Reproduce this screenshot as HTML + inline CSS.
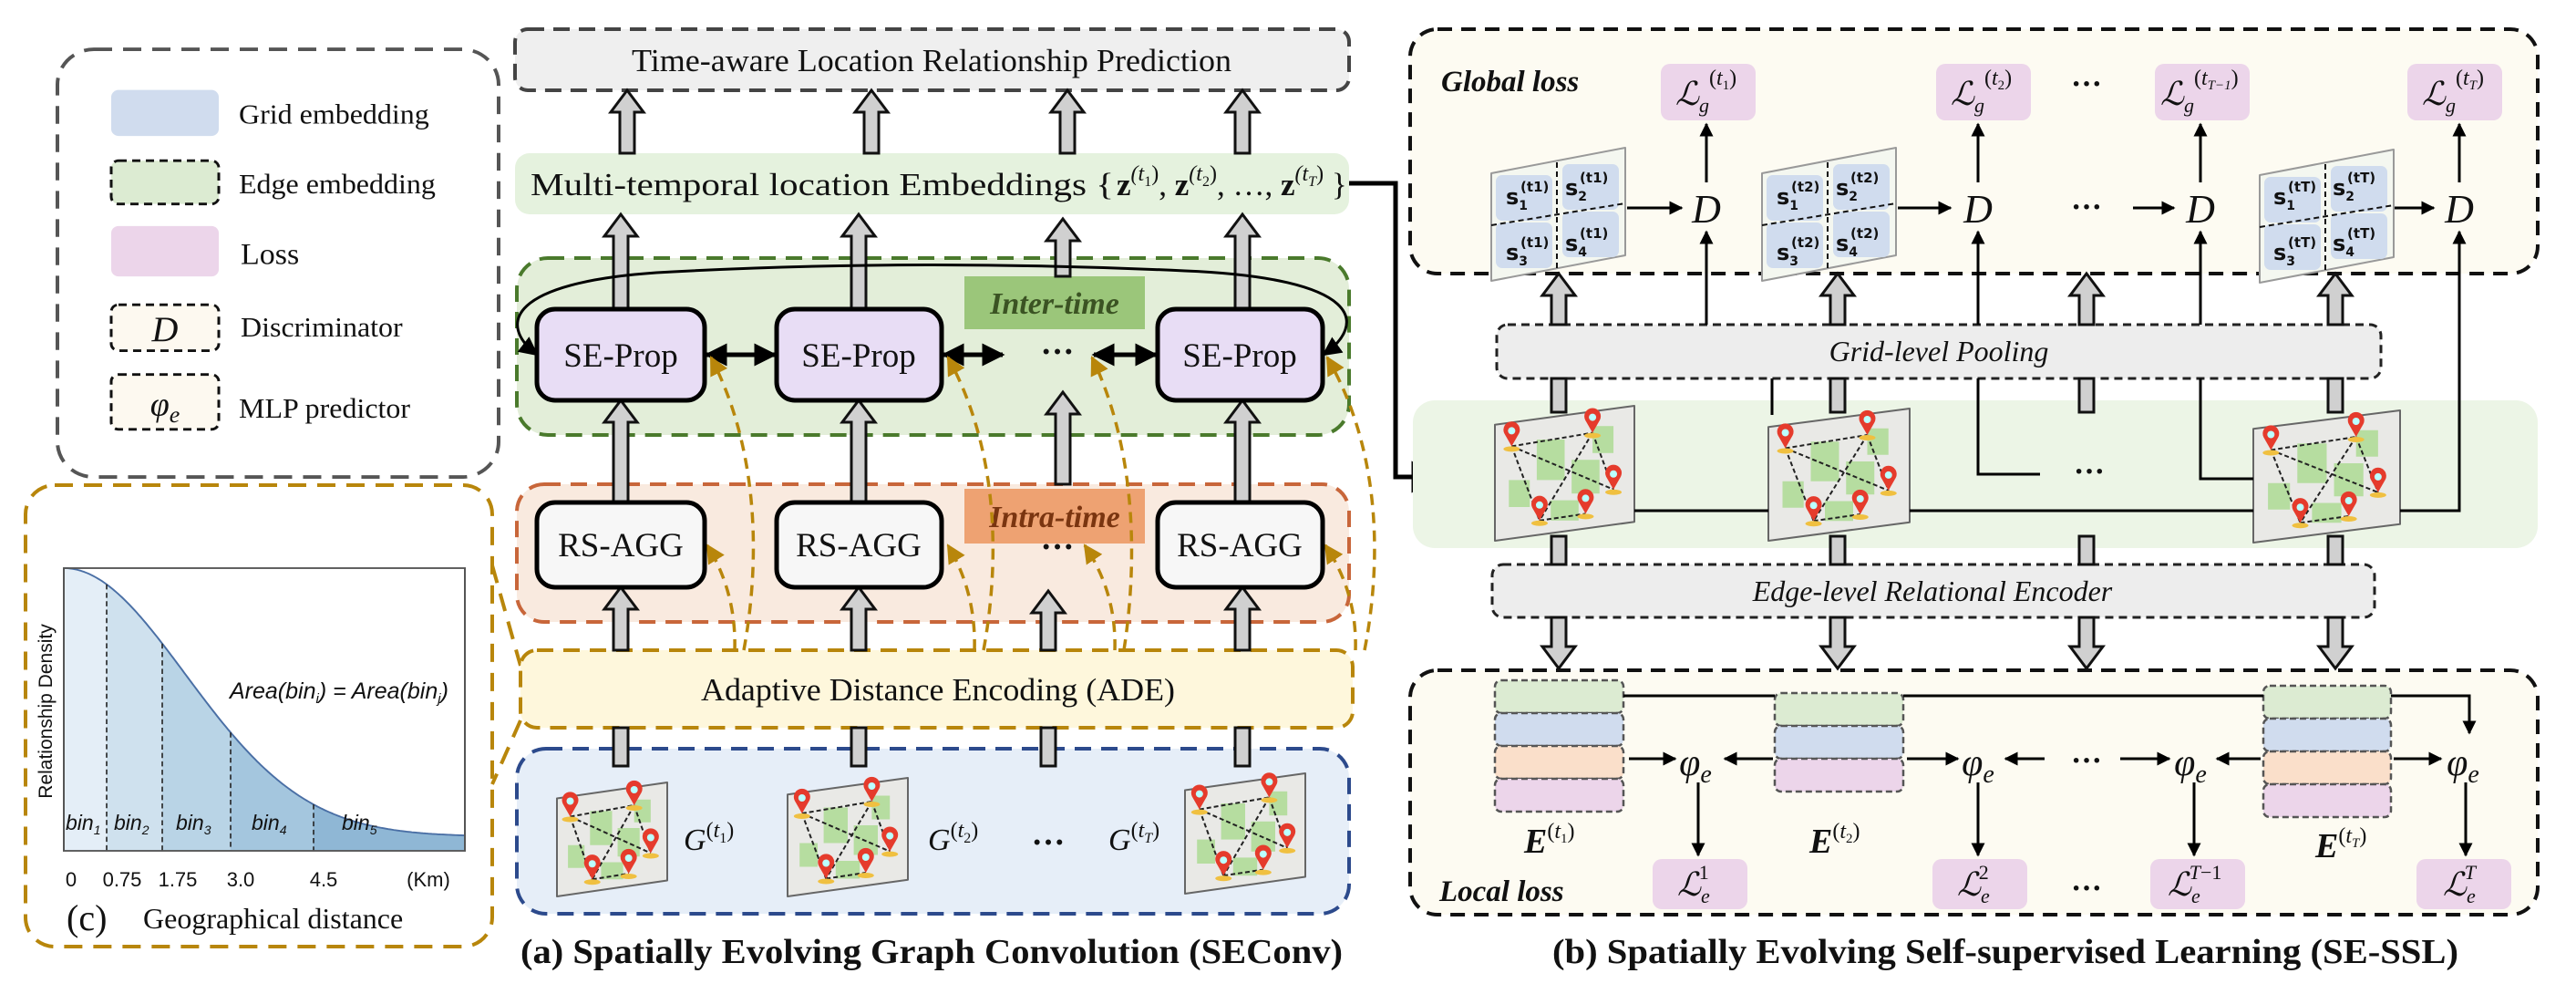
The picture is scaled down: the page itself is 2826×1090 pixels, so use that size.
<!DOCTYPE html>
<html><head><meta charset="utf-8"><style>
html,body{margin:0;padding:0;background:#fff}
svg{display:block}
text{font-family:"Liberation Serif","DejaVu Serif",serif;fill:#111}
.sans text, text.sans{font-family:"Liberation Sans","DejaVu Sans",sans-serif}
.dj text{font-family:"DejaVu Sans",sans-serif}
.m{font-style:italic}
.b{font-weight:bold}
</style></head><body>
<svg id="s" width="2826" height="1090" viewBox="0 0 2826 1090" xmlns="http://www.w3.org/2000/svg">
<defs>
<marker id="ah" viewBox="0 0 10 10" refX="9" refY="5" markerWidth="7" markerHeight="7" orient="auto-start-reverse"><path d="M0,0 L10,5 L0,10 z" fill="#000"/></marker>
<marker id="ahs" viewBox="0 0 10 10" refX="9" refY="5" markerWidth="5" markerHeight="5" orient="auto-start-reverse"><path d="M0,0 L10,5 L0,10 z" fill="#000"/></marker>
<marker id="ag" viewBox="0 0 10 10" refX="9" refY="5" markerWidth="6" markerHeight="6" orient="auto"><path d="M0,0 L10,5 L0,10 z" fill="#b8860b"/></marker>
</defs>

<g transform="translate(0,-5) scale(1,0.969)">
<rect x="63" y="61" width="484" height="484" rx="40" fill="#fff" stroke="#555" stroke-width="4" stroke-dasharray="20,12"/>
<rect x="122" y="107" width="118" height="52" rx="8" fill="#d0dcee"/>
<rect x="122" y="187" width="118" height="49" rx="8" fill="#dcebd2" stroke="#111" stroke-width="3" stroke-dasharray="9,6"/>
<rect x="122" y="261" width="118" height="57" rx="8" fill="#ecd5ea"/>
<rect x="122" y="350" width="118" height="52" rx="8" fill="#fdf9f0" stroke="#111" stroke-width="3" stroke-dasharray="9,6"/>
<rect x="122" y="429" width="118" height="62" rx="8" fill="#fdf9f0" stroke="#111" stroke-width="3" stroke-dasharray="9,6"/>
<text x="181" y="391" font-size="40" class="m" text-anchor="middle">D</text>
<text x="181" y="475" font-size="38" class="m" text-anchor="middle">φ<tspan font-size="26" dy="8">e</tspan></text>
<text x="262" y="145" font-size="32">Grid embedding</text>
<text x="262" y="224" font-size="32">Edge embedding</text>
<text x="264" y="304" font-size="34">Loss</text>
<text x="264" y="386" font-size="32">Discriminator</text>
<text x="262" y="478" font-size="32">MLP predictor</text>
</g>

<rect x="28" y="532" width="512" height="506" rx="32" fill="#fff" stroke="#b8860b" stroke-width="4" stroke-dasharray="20,12"/>
<line x1="540" y1="620" x2="571" y2="730" stroke="#b8860b" stroke-width="4" stroke-dasharray="20,12"/>
<line x1="571" y1="790" x2="540" y2="860" stroke="#b8860b" stroke-width="4" stroke-dasharray="20,12"/>
<g transform="translate(0,39) scale(1,0.9226)">
<g id="chart"></g>
<rect x="70" y="633" width="440" height="336" fill="none" stroke="#555" stroke-width="2"/>
</g>
<g class="sans" font-size="23">
<text x="72" y="910" class="m">bin<tspan font-size="14" dy="5">1</tspan></text>
<text x="125" y="910" class="m">bin<tspan font-size="14" dy="5">2</tspan></text>
<text x="193" y="910" class="m">bin<tspan font-size="14" dy="5">3</tspan></text>
<text x="276" y="910" class="m">bin<tspan font-size="14" dy="5">4</tspan></text>
<text x="375" y="910" class="m">bin<tspan font-size="14" dy="5">5</tspan></text>
<text x="252" y="766" font-size="25" class="m">Area(bin<tspan font-size="15" dy="5">i</tspan><tspan dy="-5">) = Area(bin</tspan><tspan font-size="15" dy="5">j</tspan><tspan dy="-5">)</tspan></text>
<text x="57" y="780" font-size="21" transform="rotate(-90 57 780)" text-anchor="middle">Relationship Density</text>
</g>
<g class="sans" font-size="22" text-anchor="middle">
<text x="78" y="972">0</text><text x="134" y="972">0.75</text><text x="195" y="972">1.75</text><text x="264" y="972">3.0</text><text x="355" y="972">4.5</text><text x="470" y="972">(Km)</text>
</g>
<text x="73" y="1020" font-size="40">(c)</text>
<text x="157" y="1018" font-size="32">Geographical distance</text>

<rect x="565" y="32" width="915" height="67" rx="14" fill="#efefef" stroke="#444" stroke-width="4" stroke-dasharray="18,10"/>
<text x="1022" y="78" font-size="35" text-anchor="middle" textLength="658" lengthAdjust="spacingAndGlyphs">Time-aware Location Relationship Prediction</text>
<rect x="565" y="168" width="915" height="67" rx="16" fill="#e5f2de"/>
<text x="582" y="214" font-size="35" textLength="640" lengthAdjust="spacingAndGlyphs">Multi-temporal location Embeddings {</text>
<text x="1225" y="214" font-size="35" class="b">z<tspan font-size="24" dy="-16" class="m" font-weight="normal">(t</tspan><tspan font-size="16" dy="6" font-weight="normal">1</tspan><tspan font-size="24" dy="-6" font-weight="normal">)</tspan><tspan dy="16" font-weight="normal">, </tspan>z<tspan font-size="24" dy="-16" class="m" font-weight="normal">(t</tspan><tspan font-size="16" dy="6" font-weight="normal">2</tspan><tspan font-size="24" dy="-6" font-weight="normal">)</tspan><tspan dy="16" font-weight="normal">, …, </tspan>z<tspan font-size="24" dy="-16" class="m" font-weight="normal">(t</tspan><tspan font-size="16" dy="6" class="m" font-weight="normal">T</tspan><tspan font-size="24" dy="-6" font-weight="normal">)</tspan><tspan dy="16" font-weight="normal"> }</tspan></text>
<polyline points="1480,201 1531,201 1531,523 1580,523" fill="none" stroke="#000" stroke-width="5" marker-end="url(#ah)"/>

<rect x="567" y="283" width="913" height="194" rx="34" fill="#e3eed9" stroke="#4a7a2c" stroke-width="4" stroke-dasharray="18,11"/>
<rect x="567" y="531" width="913" height="151" rx="30" fill="#f9eadf" stroke="#c8663a" stroke-width="4" stroke-dasharray="18,11"/>
<rect x="571" y="713" width="913" height="85" rx="18" fill="#fef7dc" stroke="#b8860b" stroke-width="4" stroke-dasharray="18,11"/>
<rect x="567" y="821" width="913" height="181" rx="32" fill="#e6eef8" stroke="#2c4a8c" stroke-width="4" stroke-dasharray="18,11"/>

<rect x="1058" y="303" width="198" height="58" fill="#9bc67a"/>
<text x="1157" y="344" font-size="34" class="m b" text-anchor="middle" style="fill:#3b5323">Inter-time</text>
<rect x="1058" y="536" width="198" height="60" fill="#eea272"/>
<text x="1157" y="578" font-size="34" class="m b" text-anchor="middle" style="fill:#7a3510">Intra-time</text>

<g id="mid"></g>

<g stroke="#000" stroke-width="5" fill="#e8ddf5">
<rect x="589" y="339" width="184" height="100" rx="20"/>
<rect x="852" y="339" width="181" height="100" rx="20"/>
<rect x="1270" y="339" width="181" height="100" rx="20"/>
</g>
<g stroke="#000" stroke-width="5" fill="#f7f7f7">
<rect x="589" y="551" width="184" height="93" rx="20"/>
<rect x="852" y="551" width="181" height="93" rx="20"/>
<rect x="1270" y="551" width="181" height="93" rx="20"/>
</g>
<g font-size="37" text-anchor="middle">
<text x="681" y="402">SE-Prop</text><text x="942" y="402">SE-Prop</text><text x="1360" y="402">SE-Prop</text>
<text x="681" y="610">RS-AGG</text><text x="942" y="610">RS-AGG</text><text x="1360" y="610">RS-AGG</text>
<text x="1160" y="398" class="b">···</text>
<text x="1160" y="612" class="b">···</text>
<text x="1150" y="936" class="b">···</text>
</g>
<text x="1029" y="768" font-size="35" text-anchor="middle" textLength="520" lengthAdjust="spacingAndGlyphs">Adaptive Distance Encoding (ADE)</text>
<text x="750" y="932" font-size="34" class="m">G<tspan font-size="24" dy="-14" font-style="normal">(</tspan><tspan font-size="24">t</tspan><tspan font-size="16" dy="6" font-style="normal">1</tspan><tspan font-size="24" dy="-6" font-style="normal">)</tspan></text>
<text x="1018" y="932" font-size="34" class="m">G<tspan font-size="24" dy="-14" font-style="normal">(</tspan><tspan font-size="24">t</tspan><tspan font-size="16" dy="6" font-style="normal">2</tspan><tspan font-size="24" dy="-6" font-style="normal">)</tspan></text>
<text x="1216" y="932" font-size="34" class="m">G<tspan font-size="24" dy="-14" font-style="normal">(</tspan><tspan font-size="24">t</tspan><tspan font-size="16" dy="6">T</tspan><tspan font-size="24" dy="-6" font-style="normal">)</tspan></text>
<text x="1022" y="1056" font-size="38" class="b" text-anchor="middle" textLength="902" lengthAdjust="spacingAndGlyphs">(a) Spatially Evolving Graph Convolution (SEConv)</text>

<rect x="1547" y="32" width="1237" height="268" rx="30" fill="#fdfbf2" stroke="#111" stroke-width="4" stroke-dasharray="16,10"/>
<rect x="1550" y="439" width="1234" height="162" rx="24" fill="#ecf5e6"/>
<rect x="1642" y="356" width="970" height="59" rx="12" fill="#ededed" stroke="#222" stroke-width="3" stroke-dasharray="9,6"/>
<rect x="1637" y="619" width="968" height="58" rx="12" fill="#ededed" stroke="#222" stroke-width="3" stroke-dasharray="9,6"/>
<rect x="1547" y="735" width="1237" height="268" rx="30" fill="#fdfbf2" stroke="#111" stroke-width="4" stroke-dasharray="16,10"/>
<text x="2127" y="396" font-size="32" class="m" text-anchor="middle">Grid-level Pooling</text>
<text x="2120" y="659" font-size="32" class="m" text-anchor="middle">Edge-level Relational Encoder</text>
<text x="1581" y="100" font-size="33" class="m b">Global loss</text>
<text x="1579" y="988" font-size="33" class="m b">Local loss</text>

<g fill="#ecd5ea">
<rect x="1822" y="70" width="104" height="62" rx="10"/><rect x="2124" y="70" width="104" height="62" rx="10"/>
<rect x="2364" y="70" width="104" height="62" rx="10"/><rect x="2641" y="70" width="104" height="62" rx="10"/>
<rect x="1813" y="942" width="104" height="55" rx="10"/><rect x="2120" y="942" width="104" height="55" rx="10"/>
<rect x="2359" y="942" width="104" height="55" rx="10"/><rect x="2651" y="942" width="104" height="55" rx="10"/>
</g>
<g font-size="36" class="m">
<text x="1838" y="115">ℒ<tspan font-size="22" dy="8">g</tspan><tspan font-size="24" dy="-30" font-style="normal">(</tspan><tspan font-size="24">t</tspan><tspan font-size="15" dy="5" font-style="normal">1</tspan><tspan font-size="24" dy="-5" font-style="normal">)</tspan></text>
<text x="2140" y="115">ℒ<tspan font-size="22" dy="8">g</tspan><tspan font-size="24" dy="-30" font-style="normal">(</tspan><tspan font-size="24">t</tspan><tspan font-size="15" dy="5" font-style="normal">2</tspan><tspan font-size="24" dy="-5" font-style="normal">)</tspan></text>
<text x="2370" y="115">ℒ<tspan font-size="22" dy="8">g</tspan><tspan font-size="24" dy="-30" font-style="normal">(</tspan><tspan font-size="24">t</tspan><tspan font-size="15" dy="5">T−1</tspan><tspan font-size="24" dy="-5" font-style="normal">)</tspan></text>
<text x="2657" y="115">ℒ<tspan font-size="22" dy="8">g</tspan><tspan font-size="24" dy="-30" font-style="normal">(</tspan><tspan font-size="24">t</tspan><tspan font-size="15" dy="5">T</tspan><tspan font-size="24" dy="-5" font-style="normal">)</tspan></text>
<text x="1840" y="982">ℒ<tspan font-size="22" dy="8">e</tspan><tspan font-size="22" dy="-26" dx="-12" font-style="normal">1</tspan></text>
<text x="2147" y="982">ℒ<tspan font-size="22" dy="8">e</tspan><tspan font-size="22" dy="-26" dx="-12" font-style="normal">2</tspan></text>
<text x="2378" y="982">ℒ<tspan font-size="22" dy="8">e</tspan><tspan font-size="22" dy="-26" dx="-12">T</tspan><tspan font-size="22" font-style="normal">−1</tspan></text>
<text x="2680" y="982">ℒ<tspan font-size="22" dy="8">e</tspan><tspan font-size="22" dy="-26" dx="-12">T</tspan></text>
</g>
<g font-size="34" class="b" text-anchor="middle">
<text x="2289" y="103">···</text><text x="2289" y="238">···</text><text x="2292" y="528">···</text>
<text x="2289" y="845">···</text><text x="2289" y="985">···</text>
</g>
<g font-size="44" class="m" text-anchor="middle">
<text x="1872" y="244">D</text><text x="2170" y="244">D</text><text x="2414" y="244">D</text><text x="2698" y="244">D</text>
</g>
<g font-size="42" class="m" text-anchor="middle">
<text x="1860" y="850">φ<tspan font-size="28" dy="8">e</tspan></text>
<text x="2170" y="850">φ<tspan font-size="28" dy="8">e</tspan></text>
<text x="2403" y="850">φ<tspan font-size="28" dy="8">e</tspan></text>
<text x="2702" y="850">φ<tspan font-size="28" dy="8">e</tspan></text>
</g>
<g font-size="38" class="m b">
<text x="1672" y="935">E<tspan font-size="24" dy="-16" font-weight="normal" font-style="normal">(</tspan><tspan font-size="24" font-weight="normal">t</tspan><tspan font-size="15" dy="5" font-weight="normal" font-style="normal">1</tspan><tspan font-size="24" dy="-5" font-weight="normal" font-style="normal">)</tspan></text>
<text x="1985" y="935">E<tspan font-size="24" dy="-16" font-weight="normal" font-style="normal">(</tspan><tspan font-size="24" font-weight="normal">t</tspan><tspan font-size="15" dy="5" font-weight="normal" font-style="normal">2</tspan><tspan font-size="24" dy="-5" font-weight="normal" font-style="normal">)</tspan></text>
<text x="2540" y="940">E<tspan font-size="24" dy="-16" font-weight="normal" font-style="normal">(</tspan><tspan font-size="24" font-weight="normal">t</tspan><tspan font-size="15" dy="5" font-weight="normal">T</tspan><tspan font-size="24" dy="-5" font-weight="normal" font-style="normal">)</tspan></text>
</g>
<text x="2200" y="1056" font-size="38" class="b" text-anchor="middle" textLength="994" lengthAdjust="spacingAndGlyphs">(b) Spatially Evolving Self-supervised Learning (SE-SSL)</text>

<g id="right"></g>

<g transform="translate(0,-8)">
<g id="grids"></g>
<g font-size="24" font-weight="bold" class="dj">
<text x="1652" y="232">s<tspan font-size="14" dy="6">1</tspan><tspan font-size="15" dy="-20" dx="-8">(t1)</tspan></text>
<text x="1717" y="222">s<tspan font-size="14" dy="6">2</tspan><tspan font-size="15" dy="-20" dx="-8">(t1)</tspan></text>
<text x="1652" y="293">s<tspan font-size="14" dy="6">3</tspan><tspan font-size="15" dy="-20" dx="-8">(t1)</tspan></text>
<text x="1717" y="283">s<tspan font-size="14" dy="6">4</tspan><tspan font-size="15" dy="-20" dx="-8">(t1)</tspan></text>
<text x="1949" y="232">s<tspan font-size="14" dy="6">1</tspan><tspan font-size="15" dy="-20" dx="-8">(t2)</tspan></text>
<text x="2014" y="222">s<tspan font-size="14" dy="6">2</tspan><tspan font-size="15" dy="-20" dx="-8">(t2)</tspan></text>
<text x="1949" y="293">s<tspan font-size="14" dy="6">3</tspan><tspan font-size="15" dy="-20" dx="-8">(t2)</tspan></text>
<text x="2014" y="283">s<tspan font-size="14" dy="6">4</tspan><tspan font-size="15" dy="-20" dx="-8">(t2)</tspan></text>
<text x="2494" y="232">s<tspan font-size="14" dy="6">1</tspan><tspan font-size="15" dy="-20" dx="-8">(tT)</tspan></text>
<text x="2559" y="222">s<tspan font-size="14" dy="6">2</tspan><tspan font-size="15" dy="-20" dx="-8">(tT)</tspan></text>
<text x="2494" y="293">s<tspan font-size="14" dy="6">3</tspan><tspan font-size="15" dy="-20" dx="-8">(tT)</tspan></text>
<text x="2559" y="283">s<tspan font-size="14" dy="6">4</tspan><tspan font-size="15" dy="-20" dx="-8">(tT)</tspan></text>
</g>
</g>
</svg>
<script>
var NS="http://www.w3.org/2000/svg";
function el(p,t,a){var e=document.createElementNS(NS,t);for(var k in a)e.setAttribute(k,a[k]);p.appendChild(e);return e;}
function up(g,x,t,b){el(g,"path",{d:"M"+(x-8)+","+b+" L"+(x-8)+","+(t+24)+" L"+(x-18)+","+(t+24)+" L"+x+","+t+" L"+(x+18)+","+(t+24)+" L"+(x+8)+","+(t+24)+" L"+(x+8)+","+b+" Z",fill:"#d0d0d0",stroke:"#111","stroke-width":3});}
function down(g,x,t,b){el(g,"path",{d:"M"+(x-8)+","+t+" L"+(x-8)+","+(b-24)+" L"+(x-18)+","+(b-24)+" L"+x+","+b+" L"+(x+18)+","+(b-24)+" L"+(x+8)+","+(b-24)+" L"+(x+8)+","+t+" Z",fill:"#d0d0d0",stroke:"#111","stroke-width":3});}
function shaft(g,x,t,b){el(g,"rect",{x:x-8,y:t,width:16,height:b-t,fill:"#d0d0d0",stroke:"#111","stroke-width":3});}
function map(g,x,y,w,h){
 var s=h*0.14;
 el(g,"path",{d:"M"+x+","+(y+s)+" L"+(x+w)+","+y+" L"+(x+w)+","+(y+h-s)+" L"+x+","+(y+h)+" Z",fill:"#e9e9e6",stroke:"#666","stroke-width":2,"stroke-linejoin":"round"});
 var pts=[[.12,.3],[.7,.2],[.85,.62],[.65,.8],[.32,.85]];
 var gs=[[.3,.25,.2,.3],[.55,.4,.2,.25],[.1,.55,.15,.2],[.7,.15,.15,.2],[.4,.7,.2,.15]];
 gs.forEach(function(q){el(g,"rect",{x:x+q[0]*w,y:y+q[1]*h,width:q[2]*w,height:q[3]*h,fill:"#a9d98f",opacity:.8});});
 var P=pts.map(function(p){return [x+p[0]*w,y+p[1]*h];});
 [[0,1],[0,2],[1,4],[1,2],[4,3],[0,4]].forEach(function(e){el(g,"line",{x1:P[e[0]][0],y1:P[e[0]][1],x2:P[e[1]][0],y2:P[e[1]][1],stroke:"#222","stroke-width":2,"stroke-dasharray":"5,3"});});
 P.forEach(function(p){el(g,"ellipse",{cx:p[0],cy:p[1]+3,rx:9,ry:3,fill:"#f0c040"});el(g,"path",{d:"M"+p[0]+","+(p[1])+" l-8,-14 a9,9 0 1 1 16,0 z",fill:"#e53b2c"});el(g,"circle",{cx:p[0],cy:p[1]-17,r:4,fill:"#bff"});});
}
var c=document.getElementById("chart");
function f(x){return 952-319*Math.exp(-Math.pow((x-70)/188,2));}
var d="M70,969";for(var x=70;x<=510;x+=2)d+=" L"+x+","+f(x).toFixed(1);d+=" L510,969 Z";
var cp=el(document.querySelector("defs"),"clipPath",{id:"area"});el(cp,"path",{d:d});
var bins=[[70,117,"#e4eef7"],[117,178,"#cfe1ee"],[178,253,"#b9d4e6"],[253,344,"#a4c6de"],[344,510,"#8fb7d5"]];
bins.forEach(function(b){el(c,"rect",{x:b[0],y:600,width:b[1]-b[0],height:380,fill:b[2],"clip-path":"url(#area)"});});
var ln="M70,"+f(70);for(var x=72;x<=510;x+=2)ln+=" L"+x+","+f(x).toFixed(1);
el(c,"path",{d:ln,fill:"none",stroke:"#4a6fa5","stroke-width":2});
[117,178,253,344].forEach(function(x){el(c,"line",{x1:x,y1:f(x),x2:x,y2:969,stroke:"#222","stroke-width":1.6,"stroke-dasharray":"6,4"});});
var m=document.getElementById("mid");
[688,956,1171,1363].forEach(function(x){up(m,x,99,168);});
[681,942,1363].forEach(function(x){up(m,x,235,339);});up(m,1166,240,303);
[681,942,1363].forEach(function(x){up(m,x,439,551);});up(m,1166,430,531);
[681,942,1363].forEach(function(x){up(m,x,644,713);});up(m,1150,648,713);
[681,942,1150,1363].forEach(function(x){shaft(m,x,798,840);});
map(m,611,858,121,125);map(m,864,853,132,130);map(m,1300,848,132,132);
el(m,"path",{d:"M1452,389 C1500,355 1495,305 1300,297 Q1000,283 720,299 C560,310 545,355 589,389",fill:"none",stroke:"#000","stroke-width":3,"marker-start":"url(#ah)","marker-end":"url(#ah)"});
[[773,852],[1033,1102],[1198,1270]].forEach(function(a){el(m,"line",{x1:a[0]+2,y1:389,x2:a[1]-2,y2:389,stroke:"#000","stroke-width":5,"marker-start":"url(#ahs)","marker-end":"url(#ahs)"});});
var gold={fill:"none",stroke:"#b8860b","stroke-width":3.5,"stroke-dasharray":"12,8","marker-end":"url(#ag)"};
[[806,776,831,780],[1069,1040,1094,1040],[1223,1190,1245,1198],[1487,1454,1513,1456]].forEach(function(a){
 var o=Object.assign({},gold);o.d="M"+a[0]+",713 Q"+(a[0]+2)+",650 "+a[1]+",598";el(m,"path",o);
 var o2=Object.assign({},gold);o2.d="M"+(a[0]+10)+",713 C"+(a[2]+4)+",610 "+(a[2])+",490 "+a[3]+",392";el(m,"path",o2);
});
var r=document.getElementById("right");
[1710,2016,2289,2562].forEach(function(x){up(r,x,300,356);});
[1710,2016,2289,2562].forEach(function(x){shaft(r,x,415,452);});
[1710,2016,2289,2562].forEach(function(x){shaft(r,x,588,619);down(r,x,677,733);});
map(r,1640,445,153,148);map(r,1940,448,155,145);map(r,2472,450,161,145);
var L={stroke:"#000","stroke-width":3,fill:"none"};
function pl(pts,arrow){var o=Object.assign({},L);o.points=pts;if(arrow)o["marker-end"]="url(#ahs)";el(r,"polyline",o);}
pl("1793,560 1940,560");pl("2095,560 2472,560");pl("2633,560 2698,560 2698,254",1);
pl("1872,356 1872,254",1);pl("1944,415 1944,455");pl("2170,415 2170,520 2238,520");pl("2414,415 2414,525 2472,525");
pl("2170,356 2170,254",1);pl("2414,356 2414,254",1);
[1872,2170,2414,2698].forEach(function(x){pl(x+",200 "+x+",136",1);});
pl("1785,228 1845,228",1);pl("2082,228 2140,228",1);pl("2340,228 2385,228",1);pl("2626,228 2670,228",1);
function stack(x,y,w,cols){var h=36;cols.forEach(function(cl,i){el(r,"rect",{x:x,y:y+i*h,width:w,height:h,rx:7,fill:cl,stroke:"#555","stroke-width":2.5,"stroke-dasharray":"7,4"});});}
stack(1640,746,141,["#dcebd2","#d0dcee","#fadfca","#ecd5ea"]);
stack(1947,760,141,["#dcebd2","#d0dcee","#ecd5ea"]);
stack(2483,752,140,["#dcebd2","#d0dcee","#fadfca","#ecd5ea"]);
pl("1781,763 1947,763");pl("2088,763 2483,763");pl("2623,763 2709,763 2709,804",1);
pl("1787,832 1838,832",1);pl("1945,832 1892,832",1);pl("2092,832 2148,832",1);pl("2243,832 2200,832",1);
pl("2326,832 2380,832",1);pl("2480,832 2432,832",1);pl("2626,832 2678,832",1);
[1863,2170,2407,2705].forEach(function(x){pl(x+",858 "+x+",938",1);});
var G=document.getElementById("grids");
[[1636,170],[1933,170],[2479,172]].forEach(function(p){var x=p[0],y=p[1],w=147,h=146;
 el(G,"path",{d:"M"+x+","+(y+28)+" L"+(x+w)+","+y+" L"+(x+w)+","+(y+h-28)+" L"+x+","+(y+h)+" Z",fill:"#f4f7f0",stroke:"#999","stroke-width":2,"stroke-linejoin":"round"});
 [[x+5,y+30],[x+78,y+18],[x+5,y+82],[x+78,y+70]].forEach(function(q){el(G,"rect",{x:q[0],y:q[1],width:62,height:50,rx:7,fill:"#d0dcee"});});
 el(G,"line",{x1:x+72,y1:y+16,x2:x+72,y2:y+h-12,stroke:"#111","stroke-width":2,"stroke-dasharray":"6,4"});
 el(G,"line",{x1:x,y1:y+h/2+12,x2:x+w,y2:y+h/2-12,stroke:"#111","stroke-width":2,"stroke-dasharray":"6,4"});
});
</script>
</body></html>
